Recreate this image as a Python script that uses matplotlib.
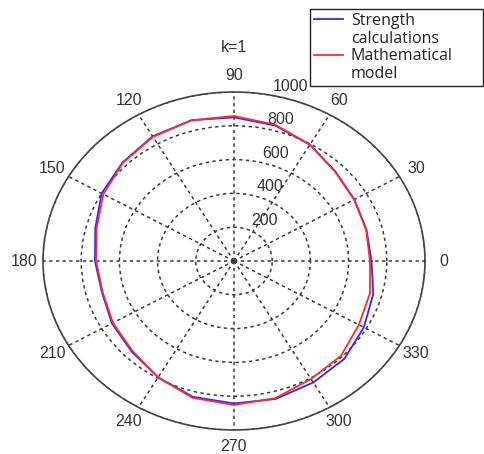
import numpy as np
import matplotlib.pyplot as plt
from matplotlib.lines import Line2D

# angles in degrees, radii
angles = [0, 15, 30, 45, 60, 75, 90, 105, 120, 135, 150, 165, 180,
          195, 210, 225, 240, 255, 270, 285, 300, 315, 330, 345, 360]
strength = [720, 718, 728, 750, 795, 830, 850, 862, 852, 825, 800, 752, 728,
            716, 738, 758, 795, 832, 843, 845, 830, 818, 785, 755, 720]
model = [712, 716, 726, 748, 795, 835, 858, 862, 848, 822, 790, 745, 722,
         712, 732, 752, 795, 838, 852, 840, 806, 793, 755, 737, 712]

ring_ticks = [200, 400, 600, 800, 1000]
spoke_angles = [0, 30, 60, 90, 120, 150, 180, 210, 240, 270, 300, 330]
spoke_labels = ['0', '30', '60', '90', '120', '150', '180', '210', '240', '270', '300', '330']
title = 'k=1'
legend_labels = ['Strength', 'calculations', 'Mathematical', 'model']

plt.rcParams['font.family'] = ['Liberation Sans', 'DejaVu Sans']
grey = '#3a3a3a'

fig = plt.figure(figsize=(4.84, 4.54), dpi=100)
ax = fig.add_axes([43/484, 24/454, 382/484, 338/454], projection='polar')
ax.set_aspect('auto')

th = np.deg2rad(angles)
l1, = ax.plot(th, strength, color='#2b2bff', lw=1.3)
l2, = ax.plot(th, model, color='#ff2a2a', lw=1.3)

ax.set_rlim(0, 1000)
ax.set_rticks(ring_ticks)
ax.set_yticklabels([])
ax.set_thetagrids(spoke_angles, [''] * len(spoke_angles))
ax.grid(True, color=grey, linestyle=(0, (2.2, 2.2)), linewidth=1.1)
ax.spines['polar'].set_color('#444444')
ax.spines['polar'].set_linewidth(1.2)

# ring labels, MATLAB style
for r in ring_ticks:
    ax.annotate(str(r), xy=(np.deg2rad(82), r), xytext=(8.5, 0),
                textcoords='offset points', ha='left', va='bottom',
                fontsize=11.5, color='#333333', annotation_clip=False)

# angle labels at 1.1 * rmax
for a, s in zip(spoke_angles, spoke_labels):
    ax.text(np.deg2rad(a), 1100, s, ha='center', va='center',
            fontsize=11.5, color='#333333', clip_on=False)

fig.text(234/484, 1 - 47/454, title, ha='center', va='center',
         fontsize=11.5, color='#333333')

blank = Line2D([], [], color='none')
leg = fig.legend([l1, blank, l2, blank], legend_labels,
                 loc='upper left', bbox_to_anchor=(310/484, 0, 173/484, 1 - 9/454),
                 mode='expand', borderaxespad=0, fancybox=False, framealpha=1,
                 handlelength=1.8, handletextpad=0.5, labelspacing=0.1,
                 borderpad=0.25, prop={'family': 'Open Sans', 'size': 11.5})
leg.get_frame().set_edgecolor('#222222')
leg.get_frame().set_linewidth(1.0)
for t in leg.get_texts():
    t.set_color('#222222')

fig.savefig('out.png', dpi=100)
